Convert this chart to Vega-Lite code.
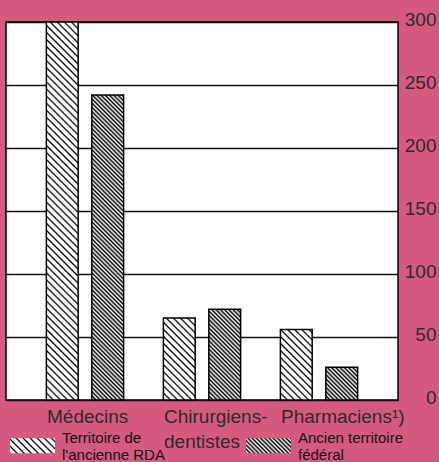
{
"$schema": "https://vega.github.io/schema/vega-lite/v6.json",
"width": 392, "height": 378,
"autosize": "none",
"padding": {"left": 6, "top": 22, "right": 41, "bottom": 62},
"background": "#d65a7f",
"params": [
{"name": "lightStops", "value": [
{"offset":0,"color":"#000"},{"offset":0.0025,"color":"#fff"},{"offset":0.0075,"color":"#fff"},
{"offset":0.01,"color":"#000"},{"offset":0.0125,"color":"#fff"},{"offset":0.0175,"color":"#fff"},
{"offset":0.02,"color":"#000"},{"offset":0.0225,"color":"#fff"},{"offset":0.0275,"color":"#fff"},
{"offset":0.03,"color":"#000"},{"offset":0.0325,"color":"#fff"},{"offset":0.0375,"color":"#fff"},
{"offset":0.04,"color":"#000"},{"offset":0.0425,"color":"#fff"},{"offset":0.0475,"color":"#fff"},
{"offset":0.05,"color":"#000"},{"offset":0.0525,"color":"#fff"},{"offset":0.0575,"color":"#fff"},
{"offset":0.06,"color":"#000"},{"offset":0.0625,"color":"#fff"},{"offset":0.0675,"color":"#fff"},
{"offset":0.07,"color":"#000"},{"offset":0.0725,"color":"#fff"},{"offset":0.0775,"color":"#fff"},
{"offset":0.08,"color":"#000"},{"offset":0.0825,"color":"#fff"},{"offset":0.0875,"color":"#fff"},
{"offset":0.09,"color":"#000"},{"offset":0.0925,"color":"#fff"},{"offset":0.0975,"color":"#fff"},
{"offset":0.1,"color":"#000"},{"offset":0.1025,"color":"#fff"},{"offset":0.1075,"color":"#fff"},
{"offset":0.11,"color":"#000"},{"offset":0.1125,"color":"#fff"},{"offset":0.1175,"color":"#fff"},
{"offset":0.12,"color":"#000"},{"offset":0.1225,"color":"#fff"},{"offset":0.1275,"color":"#fff"},
{"offset":0.13,"color":"#000"},{"offset":0.1325,"color":"#fff"},{"offset":0.1375,"color":"#fff"},
{"offset":0.14,"color":"#000"},{"offset":0.1425,"color":"#fff"},{"offset":0.1475,"color":"#fff"},
{"offset":0.15,"color":"#000"},{"offset":0.1525,"color":"#fff"},{"offset":0.1575,"color":"#fff"},
{"offset":0.16,"color":"#000"},{"offset":0.1625,"color":"#fff"},{"offset":0.1675,"color":"#fff"},
{"offset":0.17,"color":"#000"},{"offset":0.1725,"color":"#fff"},{"offset":0.1775,"color":"#fff"},
{"offset":0.18,"color":"#000"},{"offset":0.1825,"color":"#fff"},{"offset":0.1875,"color":"#fff"},
{"offset":0.19,"color":"#000"},{"offset":0.1925,"color":"#fff"},{"offset":0.1975,"color":"#fff"},
{"offset":0.2,"color":"#000"},{"offset":0.2025,"color":"#fff"},{"offset":0.2075,"color":"#fff"},
{"offset":0.21,"color":"#000"},{"offset":0.2125,"color":"#fff"},{"offset":0.2175,"color":"#fff"},
{"offset":0.22,"color":"#000"},{"offset":0.2225,"color":"#fff"},{"offset":0.2275,"color":"#fff"},
{"offset":0.23,"color":"#000"},{"offset":0.2325,"color":"#fff"},{"offset":0.2375,"color":"#fff"},
{"offset":0.24,"color":"#000"},{"offset":0.2425,"color":"#fff"},{"offset":0.2475,"color":"#fff"},
{"offset":0.25,"color":"#000"},{"offset":0.2525,"color":"#fff"},{"offset":0.2575,"color":"#fff"},
{"offset":0.26,"color":"#000"},{"offset":0.2625,"color":"#fff"},{"offset":0.2675,"color":"#fff"},
{"offset":0.27,"color":"#000"},{"offset":0.2725,"color":"#fff"},{"offset":0.2775,"color":"#fff"},
{"offset":0.28,"color":"#000"},{"offset":0.2825,"color":"#fff"},{"offset":0.2875,"color":"#fff"},
{"offset":0.29,"color":"#000"},{"offset":0.2925,"color":"#fff"},{"offset":0.2975,"color":"#fff"},
{"offset":0.3,"color":"#000"},{"offset":0.3025,"color":"#fff"},{"offset":0.3075,"color":"#fff"},
{"offset":0.31,"color":"#000"},{"offset":0.3125,"color":"#fff"},{"offset":0.3175,"color":"#fff"},
{"offset":0.32,"color":"#000"},{"offset":0.3225,"color":"#fff"},{"offset":0.3275,"color":"#fff"},
{"offset":0.33,"color":"#000"},{"offset":0.3325,"color":"#fff"},{"offset":0.3375,"color":"#fff"},
{"offset":0.34,"color":"#000"},{"offset":0.3425,"color":"#fff"},{"offset":0.3475,"color":"#fff"},
{"offset":0.35,"color":"#000"},{"offset":0.3525,"color":"#fff"},{"offset":0.3575,"color":"#fff"},
{"offset":0.36,"color":"#000"},{"offset":0.3625,"color":"#fff"},{"offset":0.3675,"color":"#fff"},
{"offset":0.37,"color":"#000"},{"offset":0.3725,"color":"#fff"},{"offset":0.3775,"color":"#fff"},
{"offset":0.38,"color":"#000"},{"offset":0.3825,"color":"#fff"},{"offset":0.3875,"color":"#fff"},
{"offset":0.39,"color":"#000"},{"offset":0.3925,"color":"#fff"},{"offset":0.3975,"color":"#fff"},
{"offset":0.4,"color":"#000"},{"offset":0.4025,"color":"#fff"},{"offset":0.4075,"color":"#fff"},
{"offset":0.41,"color":"#000"},{"offset":0.4125,"color":"#fff"},{"offset":0.4175,"color":"#fff"},
{"offset":0.42,"color":"#000"},{"offset":0.4225,"color":"#fff"},{"offset":0.4275,"color":"#fff"},
{"offset":0.43,"color":"#000"},{"offset":0.4325,"color":"#fff"},{"offset":0.4375,"color":"#fff"},
{"offset":0.44,"color":"#000"},{"offset":0.4425,"color":"#fff"},{"offset":0.4475,"color":"#fff"},
{"offset":0.45,"color":"#000"},{"offset":0.4525,"color":"#fff"},{"offset":0.4575,"color":"#fff"},
{"offset":0.46,"color":"#000"},{"offset":0.4625,"color":"#fff"},{"offset":0.4675,"color":"#fff"},
{"offset":0.47,"color":"#000"},{"offset":0.4725,"color":"#fff"},{"offset":0.4775,"color":"#fff"},
{"offset":0.48,"color":"#000"},{"offset":0.4825,"color":"#fff"},{"offset":0.4875,"color":"#fff"},
{"offset":0.49,"color":"#000"},{"offset":0.4925,"color":"#fff"},{"offset":0.4975,"color":"#fff"},
{"offset":0.5,"color":"#000"},{"offset":0.5025,"color":"#fff"},{"offset":0.5075,"color":"#fff"},
{"offset":0.51,"color":"#000"},{"offset":0.5125,"color":"#fff"},{"offset":0.5175,"color":"#fff"},
{"offset":0.52,"color":"#000"},{"offset":0.5225,"color":"#fff"},{"offset":0.5275,"color":"#fff"},
{"offset":0.53,"color":"#000"},{"offset":0.5325,"color":"#fff"},{"offset":0.5375,"color":"#fff"},
{"offset":0.54,"color":"#000"},{"offset":0.5425,"color":"#fff"},{"offset":0.5475,"color":"#fff"},
{"offset":0.55,"color":"#000"},{"offset":0.5525,"color":"#fff"},{"offset":0.5575,"color":"#fff"},
{"offset":0.56,"color":"#000"},{"offset":0.5625,"color":"#fff"},{"offset":0.5675,"color":"#fff"},
{"offset":0.57,"color":"#000"},{"offset":0.5725,"color":"#fff"},{"offset":0.5775,"color":"#fff"},
{"offset":0.58,"color":"#000"},{"offset":0.5825,"color":"#fff"},{"offset":0.5875,"color":"#fff"}
]},
{"name": "darkStops", "value": [
{"offset":0,"color":"#000"},{"offset":0.005,"color":"#fff"},{"offset":0.01,"color":"#000"},{"offset":0.015,"color":"#fff"},
{"offset":0.02,"color":"#000"},{"offset":0.025,"color":"#fff"},{"offset":0.03,"color":"#000"},{"offset":0.035,"color":"#fff"},
{"offset":0.04,"color":"#000"},{"offset":0.045,"color":"#fff"},{"offset":0.05,"color":"#000"},{"offset":0.055,"color":"#fff"},
{"offset":0.06,"color":"#000"},{"offset":0.065,"color":"#fff"},{"offset":0.07,"color":"#000"},{"offset":0.075,"color":"#fff"},
{"offset":0.08,"color":"#000"},{"offset":0.085,"color":"#fff"},{"offset":0.09,"color":"#000"},{"offset":0.095,"color":"#fff"},
{"offset":0.1,"color":"#000"},{"offset":0.105,"color":"#fff"},{"offset":0.11,"color":"#000"},{"offset":0.115,"color":"#fff"},
{"offset":0.12,"color":"#000"},{"offset":0.125,"color":"#fff"},{"offset":0.13,"color":"#000"},{"offset":0.135,"color":"#fff"},
{"offset":0.14,"color":"#000"},{"offset":0.145,"color":"#fff"},{"offset":0.15,"color":"#000"},{"offset":0.155,"color":"#fff"},
{"offset":0.16,"color":"#000"},{"offset":0.165,"color":"#fff"},{"offset":0.17,"color":"#000"},{"offset":0.175,"color":"#fff"},
{"offset":0.18,"color":"#000"},{"offset":0.185,"color":"#fff"},{"offset":0.19,"color":"#000"},{"offset":0.195,"color":"#fff"},
{"offset":0.2,"color":"#000"},{"offset":0.205,"color":"#fff"},{"offset":0.21,"color":"#000"},{"offset":0.215,"color":"#fff"},
{"offset":0.22,"color":"#000"},{"offset":0.225,"color":"#fff"},{"offset":0.23,"color":"#000"},{"offset":0.235,"color":"#fff"},
{"offset":0.24,"color":"#000"},{"offset":0.245,"color":"#fff"},{"offset":0.25,"color":"#000"},{"offset":0.255,"color":"#fff"},
{"offset":0.26,"color":"#000"},{"offset":0.265,"color":"#fff"},{"offset":0.27,"color":"#000"},{"offset":0.275,"color":"#fff"},
{"offset":0.28,"color":"#000"},{"offset":0.285,"color":"#fff"},{"offset":0.29,"color":"#000"},{"offset":0.295,"color":"#fff"},
{"offset":0.3,"color":"#000"},{"offset":0.305,"color":"#fff"},{"offset":0.31,"color":"#000"},{"offset":0.315,"color":"#fff"},
{"offset":0.32,"color":"#000"},{"offset":0.325,"color":"#fff"},{"offset":0.33,"color":"#000"},{"offset":0.335,"color":"#fff"},
{"offset":0.34,"color":"#000"},{"offset":0.345,"color":"#fff"},{"offset":0.35,"color":"#000"},{"offset":0.355,"color":"#fff"},
{"offset":0.36,"color":"#000"},{"offset":0.365,"color":"#fff"},{"offset":0.37,"color":"#000"},{"offset":0.375,"color":"#fff"},
{"offset":0.38,"color":"#000"},{"offset":0.385,"color":"#fff"},{"offset":0.39,"color":"#000"},{"offset":0.395,"color":"#fff"},
{"offset":0.4,"color":"#000"},{"offset":0.405,"color":"#fff"},{"offset":0.41,"color":"#000"},{"offset":0.415,"color":"#fff"},
{"offset":0.42,"color":"#000"},{"offset":0.425,"color":"#fff"},{"offset":0.43,"color":"#000"},{"offset":0.435,"color":"#fff"},
{"offset":0.44,"color":"#000"},{"offset":0.445,"color":"#fff"},{"offset":0.45,"color":"#000"},{"offset":0.455,"color":"#fff"},
{"offset":0.46,"color":"#000"},{"offset":0.465,"color":"#fff"},{"offset":0.47,"color":"#000"},{"offset":0.475,"color":"#fff"},
{"offset":0.48,"color":"#000"},{"offset":0.485,"color":"#fff"},{"offset":0.49,"color":"#000"},{"offset":0.495,"color":"#fff"},
{"offset":0.5,"color":"#000"},{"offset":0.505,"color":"#fff"},{"offset":0.51,"color":"#000"},{"offset":0.515,"color":"#fff"},
{"offset":0.52,"color":"#000"},{"offset":0.525,"color":"#fff"},{"offset":0.53,"color":"#000"},{"offset":0.535,"color":"#fff"},
{"offset":0.54,"color":"#000"},{"offset":0.545,"color":"#fff"},{"offset":0.55,"color":"#000"},{"offset":0.555,"color":"#fff"},
{"offset":0.56,"color":"#000"},{"offset":0.565,"color":"#fff"},{"offset":0.57,"color":"#000"},{"offset":0.575,"color":"#fff"},
{"offset":0.58,"color":"#000"},{"offset":0.585,"color":"#fff"},{"offset":0.59,"color":"#000"},{"offset":0.595,"color":"#fff"},
{"offset":0.6,"color":"#000"},{"offset":0.605,"color":"#fff"},{"offset":0.61,"color":"#000"},{"offset":0.615,"color":"#fff"},
{"offset":0.62,"color":"#000"},{"offset":0.625,"color":"#fff"},{"offset":0.63,"color":"#000"},{"offset":0.635,"color":"#fff"},
{"offset":0.64,"color":"#000"},{"offset":0.645,"color":"#fff"},{"offset":0.65,"color":"#000"},{"offset":0.655,"color":"#fff"},
{"offset":0.66,"color":"#000"},{"offset":0.665,"color":"#fff"},{"offset":0.67,"color":"#000"},{"offset":0.675,"color":"#fff"},
{"offset":0.68,"color":"#000"},{"offset":0.685,"color":"#fff"},{"offset":0.69,"color":"#000"},{"offset":0.695,"color":"#fff"},
{"offset":0.7,"color":"#000"},{"offset":0.705,"color":"#fff"},{"offset":0.71,"color":"#000"},{"offset":0.715,"color":"#fff"},
{"offset":0.72,"color":"#000"},{"offset":0.725,"color":"#fff"},{"offset":0.73,"color":"#000"},{"offset":0.735,"color":"#fff"},
{"offset":0.74,"color":"#000"},{"offset":0.745,"color":"#fff"},{"offset":0.75,"color":"#000"},{"offset":0.755,"color":"#fff"},
{"offset":0.76,"color":"#000"},{"offset":0.765,"color":"#fff"},{"offset":0.77,"color":"#000"},{"offset":0.775,"color":"#fff"},
{"offset":0.78,"color":"#000"},{"offset":0.785,"color":"#fff"},{"offset":0.79,"color":"#000"},{"offset":0.795,"color":"#fff"}
]}
],
"data": {"values": [
{"profession": "Médecins", "territoire": "Territoire de l'ancienne RDA", "valeur": 300},
{"profession": "Médecins", "territoire": "Ancien territoire fédéral", "valeur": 242},
{"profession": "Chirurgiens-dentistes", "territoire": "Territoire de l'ancienne RDA", "valeur": 65},
{"profession": "Chirurgiens-dentistes", "territoire": "Ancien territoire fédéral", "valeur": 72},
{"profession": "Pharmaciens¹)", "territoire": "Territoire de l'ancienne RDA", "valeur": 56},
{"profession": "Pharmaciens¹)", "territoire": "Ancien territoire fédéral", "valeur": 26}
]},
"mark": {"type": "bar", "stroke": "#000", "strokeWidth": 1.5},
"encoding": {
"x": {"field": "profession", "type": "nominal", "sort": null,
 "scale": {"paddingInner": 0.34, "paddingOuter": 0.345},
 "axis": {"title": null, "orient": "bottom", "domain": false, "ticks": false, "labelAngle": 0, "labelOffset": -38,
  "labelAlign": "left", "labelBaseline": "top", "labelPadding": 7, "labelFont": "Liberation Sans", "labelFontSize": 19,
  "labelColor": "#2b2b2b", "labelLineHeight": 25, "labelLimit": 300,
  "labelExpr": "datum.label === 'Chirurgiens-dentistes' ? ['Chirurgiens-', 'dentistes'] : datum.label"}},
"xOffset": {"field": "territoire", "type": "nominal", "sort": null,
 "scale": {"domain": ["Territoire de l'ancienne RDA", "Ancien territoire fédéral"], "paddingInner": 0.3, "paddingOuter": 0}},
"y": {"field": "valeur", "type": "quantitative",
 "scale": {"domain": [0, 300], "nice": false},
 "axis": {"title": null, "orient": "right", "values": [0, 50, 100, 150, 200, 250, 300], "grid": true, "gridColor": "#111",
  "gridWidth": 1.3, "gridOpacity": 1, "domain": false, "ticks": false, "labelAlign": "right", "labelBaseline": "middle",
  "labelPadding": 38, "labelOffset": -3, "labelFont": "Liberation Sans", "labelFontSize": 19, "labelColor": "#2b2b2b"}},
"opacity": {"field": "territoire", "type": "nominal",
 "scale": {"domain": ["Territoire de l'ancienne RDA", "Ancien territoire fédéral"], "range": [1, 1]},
 "legend": {"title": null, "orient": "none", "legendX": 3, "legendY": 400, "direction": "horizontal", "columns": 2,
  "columnPadding": 78, "padding": 0, "rowPadding": 0,
  "symbolType": "M-1,-0.3333H1V0.3333H-1Z", "symbolSize": 2025, "symbolStrokeColor": "#000", "symbolStrokeWidth": 1.5,
  "labelFont": "Liberation Sans", "labelFontSize": 15, "labelColor": "#111", "labelBaseline": "bottom",
  "labelOffset": 6, "labelLimit": 300,
  "labelExpr": "datum.value === 'Ancien territoire fédéral' ? ['Ancien territoire', 'fédéral'] : ['Territoire de', \"l'ancienne RDA\"]"}},
"fill": {"field": "territoire", "type": "nominal", "legend": null,
 "condition": [
  {"test": "datum.profession === 'Médecins' && datum.territoire === 'Ancien territoire fédéral'", "value": {"expr": "datum.value === 'Ancien territoire fédéral' ? {gradient:'linear',x1:0,y1:1,x2:8.485,y2:-1.828,stops:darkStops} : (datum.value ? {gradient:'linear',x1:0,y1:1,x2:14.142,y2:-3.714,stops:lightStops} : {gradient:'linear',x1:0,y1:1,x2:0.1436,y2:-0.3765,stops:darkStops})"}},
  {"test": "datum.profession === 'Médecins'", "value": {"expr": "{gradient:'linear',x1:0,y1:1,x2:0.1563,y2:-0.8575,stops:lightStops}"}},
  {"test": "datum.profession === 'Chirurgiens-dentistes' && datum.territoire === 'Ancien territoire fédéral'", "value": {"expr": "{gradient:'linear',x1:0,y1:1,x2:1.4599,y2:-3.1648,stops:darkStops}"}},
  {"test": "datum.profession === 'Chirurgiens-dentistes'", "value": {"expr": "{gradient:'linear',x1:0,y1:1,x2:2.9131,y2:-6.5027,stops:lightStops}"}},
  {"test": "datum.territoire === 'Ancien territoire fédéral'", "value": {"expr": "{gradient:'linear',x1:0,y1:1,x2:6.4723,y2:-5.6678,stops:darkStops}"}},
  {"test": "datum.territoire !== 'Ancien territoire fédéral'", "value": {"expr": "{gradient:'linear',x1:0,y1:1,x2:3.754,y2:-7.3297,stops:lightStops}"}}
 ]}
},
"config": {"view": {"fill": "#ffffff", "stroke": "#000", "strokeWidth": 1.5}}
}
